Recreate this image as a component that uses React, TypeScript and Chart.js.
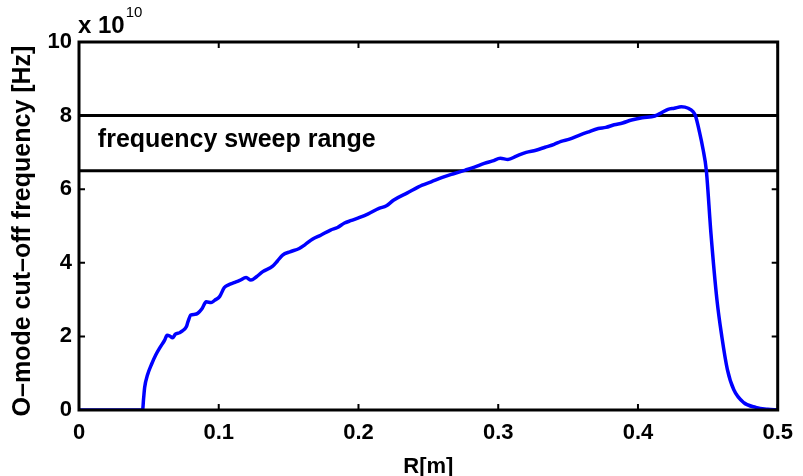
import React, { useEffect, useRef } from "react";
import { Chart, registerables } from "chart.js";

Chart.register(...registerables);

// Radius R [m]
const radius = [
  0, 0.0455, 0.0462, 0.047, 0.049, 0.052, 0.055, 0.058, 0.0613, 0.063, 0.065,
  0.067, 0.069, 0.072, 0.074, 0.0768, 0.078, 0.08, 0.083, 0.085, 0.088, 0.091,
  0.0946, 0.097, 0.1006, 0.104, 0.107, 0.111, 0.115, 0.1196, 0.123, 0.127,
  0.1315, 0.1386, 0.142, 0.1457, 0.151, 0.1576, 0.162, 0.167, 0.173, 0.18,
  0.185, 0.19, 0.195, 0.2, 0.207, 0.2147, 0.22, 0.225, 0.235, 0.2456, 0.252,
  0.26, 0.268, 0.2765, 0.283, 0.29, 0.296, 0.3015, 0.307, 0.313, 0.32, 0.327,
  0.3335, 0.34, 0.345, 0.351, 0.357, 0.364, 0.3716, 0.377, 0.383, 0.389,
  0.3954, 0.403, 0.412, 0.417, 0.4215, 0.426, 0.431, 0.436, 0.4394, 0.4411,
  0.444, 0.4465, 0.4489, 0.4522, 0.4565, 0.46, 0.464, 0.4686, 0.4757, 0.4843,
  0.4928, 0.5,
];
// O-mode cut-off frequency, units of 1e10 Hz
const cutoff = [
  0, 0, 0.3, 0.62, 0.95, 1.25, 1.5, 1.7, 1.9, 2.03, 2.01, 1.96, 2.06, 2.1,
  2.15, 2.26, 2.4, 2.58, 2.6, 2.63, 2.75, 2.94, 2.92, 2.98, 3.08, 3.33, 3.4,
  3.46, 3.52, 3.6, 3.53, 3.62, 3.76, 3.91, 4.05, 4.21, 4.3, 4.39, 4.5, 4.64,
  4.75, 4.89, 4.96, 5.08, 5.15, 5.22, 5.33, 5.48, 5.55, 5.7, 5.9, 6.11, 6.2,
  6.32, 6.42, 6.52, 6.6, 6.7, 6.77, 6.84, 6.81, 6.9, 7.0, 7.06, 7.14, 7.22,
  7.3, 7.36, 7.45, 7.55, 7.65, 7.68, 7.75, 7.8, 7.88, 7.94, 7.99, 8.08, 8.17,
  8.2, 8.24, 8.2, 8.11, 8.0, 7.56, 7.1, 6.52, 4.81, 3.0, 2.0, 1.1, 0.55, 0.2,
  0.07, 0.02, 0.005,
];
const sweepLimits = [8, 6.5];
const sweepLabel = "frequency sweep range";
const sweepLabelPos = [0.0135, 7.15];
const xTickLabels = ["0", "0.1", "0.2", "0.3", "0.4", "0.5"];
const yTickLabels = ["0", "2", "4", "6", "8", "10"];
const xTitle = "R[m]";
const yTitle = "O\u2013mode cut\u2013off frequency [Hz]";
const exponentBase = "x 10";
const exponentPower = "10";

const FONT = "'Liberation Sans', Arial, Helvetica, sans-serif";

export default function App() {
  const ref = useRef<HTMLCanvasElement | null>(null);

  useEffect(() => {
    if (!ref.current) return;
    const boxPlugin = {
      id: "matlabBox",
      afterDraw(chart: any) {
        const ctx = chart.ctx;
        const a = chart.chartArea;
        const xs = chart.scales.x;
        const ys = chart.scales.y;
        ctx.save();
        // inward ticks
        ctx.strokeStyle = "#000";
        ctx.lineWidth = 2;
        const tl = 6;
        ctx.beginPath();
        xs.ticks.forEach((t: any) => {
          const px = xs.getPixelForValue(t.value);
          ctx.moveTo(px, a.bottom);
          ctx.lineTo(px, a.bottom - tl);
          ctx.moveTo(px, a.top);
          ctx.lineTo(px, a.top + tl);
        });
        ys.ticks.forEach((t: any) => {
          const py = ys.getPixelForValue(t.value);
          ctx.moveTo(a.left, py);
          ctx.lineTo(a.left + tl, py);
          ctx.moveTo(a.right, py);
          ctx.lineTo(a.right - tl, py);
        });
        ctx.stroke();
        // box
        ctx.lineWidth = 3;
        ctx.strokeRect(a.left, a.top, a.right - a.left, a.bottom - a.top);
        // annotation
        ctx.fillStyle = "#000";
        ctx.font = `bold 25px ${FONT}`;
        ctx.textAlign = "left";
        ctx.textBaseline = "alphabetic";
        ctx.fillText(
          sweepLabel,
          xs.getPixelForValue(sweepLabelPos[0]),
          ys.getPixelForValue(sweepLabelPos[1])
        );
        // exponent label
        ctx.font = `bold 24px ${FONT}`;
        ctx.fillText(exponentBase, a.left - 1, 33);
        const w = ctx.measureText(exponentBase).width;
        ctx.font = `15px ${FONT}`;
        ctx.fillText(exponentPower, a.left - 1 + w + 1, 17);
        // y title
        ctx.save();
        ctx.translate(23, 231);
        ctx.rotate(-Math.PI / 2);
        ctx.font = `bold 25px ${FONT}`;
        ctx.textAlign = "center";
        ctx.textBaseline = "middle";
        ctx.fillText(yTitle, 0, 0);
        ctx.restore();
        ctx.restore();
      },
    };

    const chart = new Chart(ref.current, {
      type: "scatter",
      data: {
        datasets: [
          {
            data: radius.map((r, i) => ({ x: r, y: cutoff[i] })),
            showLine: true,
            borderColor: "#0000ff",
            borderWidth: 3.5,
            pointRadius: 0,
            cubicInterpolationMode: "monotone",
          },
          ...sweepLimits.map((v) => ({
            data: [
              { x: 0, y: v },
              { x: 0.5, y: v },
            ],
            showLine: true,
            borderColor: "#000",
            borderWidth: 3,
            pointRadius: 0,
          })),
        ],
      },
      options: {
        animation: false,
        responsive: false,
        events: [],
        layout: { padding: { top: 42, right: 23, left: 0, bottom: 0 } },
        plugins: { legend: { display: false }, tooltip: { enabled: false } },
        scales: {
          x: {
            type: "linear",
            min: 0,
            max: 0.5,
            grid: { display: false, drawTicks: false },
            border: { display: false },
            ticks: {
              stepSize: 0.1,
              padding: 10,
              color: "#000",
              font: { family: FONT, size: 22, weight: "bold" },
              callback: (_v: any, i: number) => xTickLabels[i],
            },
            title: {
              display: true,
              text: xTitle,
              color: "#000",
              font: { family: FONT, size: 22, weight: "bold", lineHeight: 0.8 },
              padding: { top: 0, bottom: 0 },
            },
            afterFit: (s: any) => {
              s.height = 66;
            },
          },
          y: {
            type: "linear",
            min: 0,
            max: 10,
            grid: { display: false, drawTicks: false },
            border: { display: false },
            ticks: {
              stepSize: 2,
              padding: 7,
              color: "#000",
              font: { family: FONT, size: 22, weight: "bold" },
              callback: (_v: any, i: number) => yTickLabels[i],
            },
            title: { display: false },
            afterFit: (s: any) => {
              s.width = 79;
            },
          },
        },
      },
      plugins: [boxPlugin],
    } as any);
    return () => chart.destroy();
  }, []);

  return (
    <div style={{ position: "absolute", left: 0, top: 0, width: 803, height: 476, background: "#fff" }}>
      <canvas ref={ref} width={803} height={476} style={{ display: "block" }} />
    </div>
  );
}
